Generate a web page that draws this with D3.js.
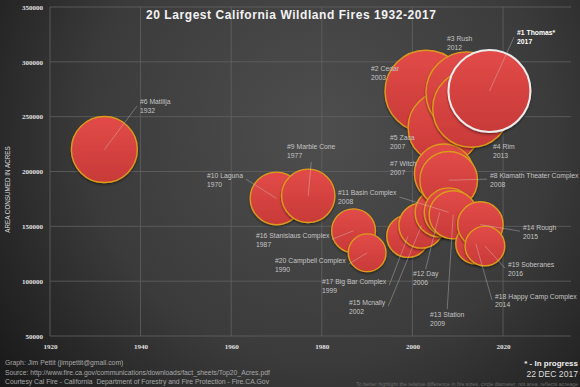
<!DOCTYPE html>
<html>
<head>
<meta charset="utf-8">
<script src="https://cdn.jsdelivr.net/npm/d3@7"></script>
<style>
  html, body { margin: 0; padding: 0; background: #222; }
  svg { display: block; }
</style>
</head>
<body>
<div id="chart"></div>
<script>
// fire data (rank order), Cal Fire top 20 as of 22 Dec 2017
const ranks = [1, 2, 3, 4, 5, 6, 7, 8, 9, 10, 11, 12, 13, 14, 15, 16, 17, 18, 19, 20]
const names = ["Thomas*", "Cedar", "Rush", "Rim", "Zaca", "Matilija", "Witch", "Klamath Theater Complex",
  "Marble Cone", "Laguna", "Basin Complex", "Day", "Station", "Rough", "Mcnally", "Stanislaus Complex",
  "Big Bar Complex", "Happy Camp Complex", "Soberanes", "Campbell Complex"]
const years = [2017, 2003, 2012, 2013, 2007, 1932, 2007, 2008, 1977, 1970, 2008, 2006, 2009, 2015, 2002, 1987, 1999, 2014, 2016, 1990]
const acres = [273400, 273246, 271911, 257314, 240207, 220000, 197990, 192038, 177866, 175425,
  162818, 162702, 160557, 151623, 150696, 145980, 140948, 134056, 132127, 125892]

const xTicks = [1920, 1940, 1960, 1980, 2000, 2020]
const yTicks = [50000, 100000, 150000, 200000, 250000, 300000, 350000]

// label placement: offset from bubble centre (px) and where the leader line starts
const labelLayout = [
  [27.6, -58, "start"], [-55, -23, null], [-19.8, -53.6, null], [21.7, 38.4, null], [-54.1, 10.7, null],
  [35.6, -47.5, "start"], [-54.1, -9.6, null], [41.4, -5.1, "start"], [-21.2, -48.7, "bottom"], [-69.5, -23.3, "end"],
  [-110.6, -19.2, "end"], [-26.6, 61.7, "top"], [-23.2, 99.4, "top"], [42.6, 2.6, "start"], [-72.5, 76.6, "end"],
  [-97.5, 4.4, "end"], [-85.9, 44.9, "end"], [19.2, 52.3, "start"], [23.1, 18.2, "start"], [-92.1, 7.4, "end"]
]

const W = 580, H = 387
const fires = ranks.map((r, i) => ({ rank: r, name: names[i], year: years[i], acres: acres[i], lay: labelLayout[i] }))

const svg = d3.select("#chart").append("svg")
  .attr("width", W).attr("height", H)
  .style("font-family", "'Liberation Sans', Arial, sans-serif")

const defs = svg.append("defs")
const bg = defs.append("radialGradient").attr("id", "bg")
  .attr("gradientUnits", "userSpaceOnUse")
  .attr("cx", 320).attr("cy", 130).attr("r", 420)
bg.append("stop").attr("offset", 0).attr("stop-color", "#4e4e4e")
bg.append("stop").attr("offset", 0.55).attr("stop-color", "#3b3b3b")
bg.append("stop").attr("offset", 1).attr("stop-color", "#161616")

const bub = defs.append("linearGradient").attr("id", "bub").attr("x1", 0).attr("y1", 0).attr("x2", 0).attr("y2", 1)
bub.append("stop").attr("offset", 0).attr("stop-color", "#e24b48")
bub.append("stop").attr("offset", 1).attr("stop-color", "#c83a38")

const shadow = defs.append("filter").attr("id", "shadow")
  .attr("x", "-20%").attr("y", "-20%").attr("width", "140%").attr("height", "140%")
shadow.append("feDropShadow").attr("dx", 0).attr("dy", 1.5).attr("stdDeviation", 1.2)
  .attr("flood-color", "#000").attr("flood-opacity", 0.45)

svg.append("rect").attr("width", W).attr("height", H).attr("fill", "url(#bg)")

// scales
const x = d3.scaleLinear().domain([1920, 2035]).range([50, 571])
const y = d3.scaleLinear().domain([50000, 350000]).range([336, 7])
const r = d3.scaleLinear().domain([0, d3.max(acres)]).range([0, 41]) // diameter, not area

// gridlines
svg.append("g").selectAll("line").data(yTicks).join("line")
  .attr("x1", x(1920)).attr("x2", x(2035))
  .attr("y1", d => y(d)).attr("y2", d => y(d))
  .attr("stroke", "#626262").attr("stroke-width", 0.8)
svg.append("g").selectAll("line").data(xTicks).join("line")
  .attr("x1", d => x(d)).attr("x2", d => x(d))
  .attr("y1", y(350000)).attr("y2", y(50000))
  .attr("stroke", "#626262").attr("stroke-width", 0.8)

// axes
const yAxis = svg.append("g")
  .attr("transform", `translate(${x(1920)},0)`)
  .call(d3.axisLeft(y).tickValues(yTicks).tickSize(0).tickPadding(7).tickFormat(d3.format("d")))
yAxis.select(".domain").remove()
yAxis.selectAll("text").attr("fill", "#e0e0e0")
  .style("font-family", "'Liberation Serif', serif").style("font-weight", "bold").style("font-size", "7px")

const xAxis = svg.append("g")
  .attr("transform", `translate(0,${y(50000)})`)
  .call(d3.axisBottom(x).tickValues(xTicks).tickSize(0).tickPadding(8).tickFormat(d3.format("d")))
xAxis.select(".domain").remove()
xAxis.selectAll("text").attr("fill", "#e0e0e0")
  .style("font-family", "'Liberation Serif', serif").style("font-weight", "bold").style("font-size", "7px")

svg.append("text")
  .attr("transform", `translate(9.5,${(y(350000) + y(50000)) / 2 + 18}) rotate(-90)`)
  .attr("text-anchor", "middle")
  .attr("fill", "#dcdcdc").style("font-size", "6.3px")
  .text("AREA CONSUMED IN ACRES")

// bubbles, drawn by year so later fires sit on top
const sorted = fires.slice().sort((a, b) => a.year - b.year || b.acres - a.acres)
svg.append("g").selectAll("circle").data(sorted).join("circle")
  .attr("cx", d => x(d.year)).attr("cy", d => y(d.acres)).attr("r", d => r(d.acres))
  .attr("fill", "url(#bub)")
  .attr("stroke", d => d.rank === 1 ? "#ececec" : "#dc9b1c")
  .attr("stroke-width", d => d.rank === 1 ? 2 : 1.4)
  .attr("filter", "url(#shadow)")

// labels
const labels = svg.append("g").selectAll("g").data(fires).join("g")
  .attr("transform", d => `translate(${x(d.year) + d.lay[0]},${y(d.acres) + d.lay[1]})`)
  .attr("fill", d => d.rank === 1 ? "#ffffff" : "#c4c4c4")
  .style("font-size", "6.8px")
  .style("font-weight", d => d.rank === 1 ? "bold" : "normal")
labels.append("text").attr("class", "l1").attr("dy", "0.35em").text(d => `#${d.rank} ${d.name}`)
labels.append("text").attr("dy", "0.35em").attr("y", 9).text(d => d.year)

// leader lines from label to bubble centre
const leaders = []
labels.each(function (d) {
  const mode = d.lay[2]
  if (!mode) return
  const w = d3.select(this).select(".l1").node().getComputedTextLength()
  const lx = x(d.year) + d.lay[0], ly = y(d.acres) + d.lay[1]
  let sx, sy
  if (mode === "start") { sx = lx - 3; sy = ly + 4 }
  else if (mode === "end") { sx = lx + w + 3; sy = ly + 4 }
  else if (mode === "top") { sx = lx + w / 2; sy = ly - 5 }
  else { sx = lx + w / 2; sy = ly + 15 }
  leaders.push({ sx, sy, tx: x(d.year), ty: y(d.acres) })
})
svg.append("g").selectAll("line").data(leaders).join("line")
  .attr("x1", d => d.sx).attr("y1", d => d.sy).attr("x2", d => d.tx).attr("y2", d => d.ty)
  .attr("stroke", "#d8d8d8").attr("stroke-opacity", 0.6).attr("stroke-width", 0.6)

// title
svg.append("text")
  .attr("x", 291).attr("y", 19).attr("text-anchor", "middle")
  .attr("fill", "#f2f2f2").style("font-size", "12px").style("font-weight", "bold")
  .attr("textLength", 290).attr("lengthAdjust", "spacing")
  .text("20 Largest California Wildland Fires 1932-2017")

// footer
const foot = ["Graph: Jim Pettit (jimpettit@gmail.com)",
  "Source: http://www.fire.ca.gov/communications/downloads/fact_sheets/Top20_Acres.pdf",
  "Courtesy Cal Fire - California  Department of Forestry and Fire Protection - Fire.CA.Gov"]
svg.append("g").selectAll("text").data(foot).join("text")
  .attr("x", 5).attr("y", (d, i) => 365 + i * 9.5)
  .attr("fill", "#a8a8a8").style("font-size", "6.8px").style("white-space", "pre")
  .text(d => d)

svg.append("text").attr("x", 578).attr("y", 366).attr("text-anchor", "end")
  .attr("fill", "#f0f0f0").style("font-size", "8px").style("font-weight", "bold")
  .text("* - In progress")
svg.append("text").attr("x", 578).attr("y", 377).attr("text-anchor", "end")
  .attr("fill", "#dcdcdc").style("font-size", "8.6px")
  .text("22 DEC 2017")
svg.append("text").attr("x", 578).attr("y", 385.5).attr("text-anchor", "end")
  .attr("fill", "#6a6a6a").style("font-size", "5.3px")
  .text("To better highlight the relative difference in fire sizes, circle diameter, not area, reflects acreage")
</script>
</body>
</html>
